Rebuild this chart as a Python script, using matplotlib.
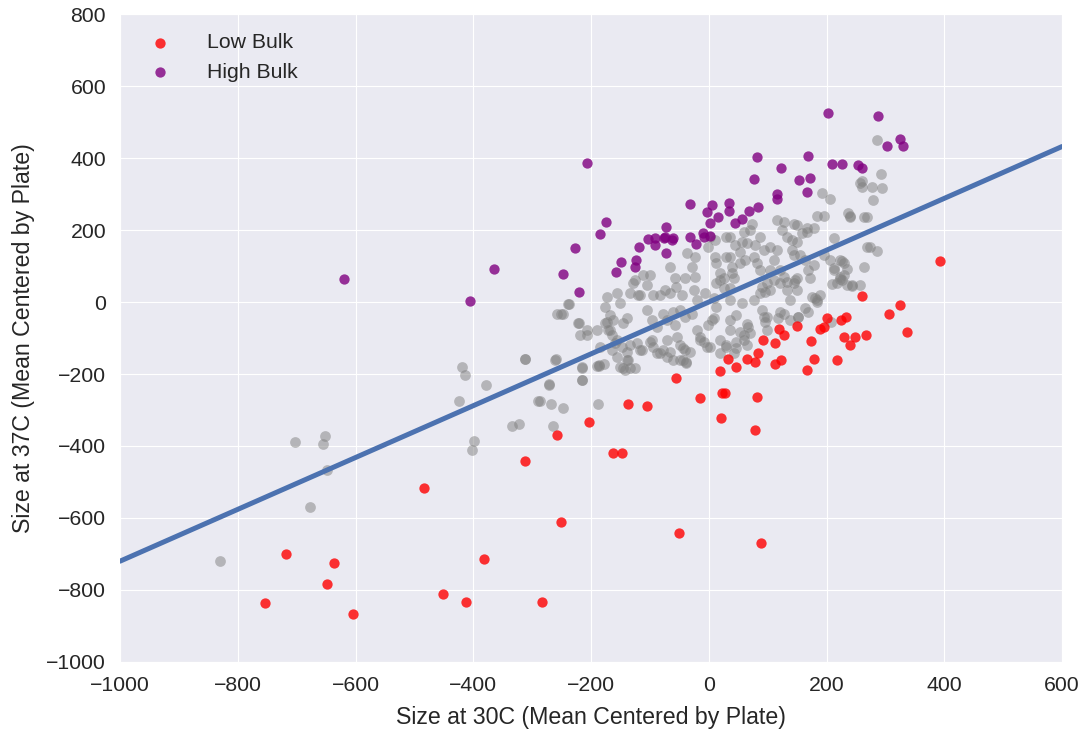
import matplotlib
matplotlib.use("Agg")
import matplotlib.pyplot as plt
import seaborn as sns

# Low Bulk strains (x = size at 30C, y = size at 37C)
low_x = [-754, -718, -649, -637, -604, -483, -451, -413, -382, -312, -283, -257, -251,
         -203, -162, -148, -138, -105, -56, -51, -15, 19, 20, 22, 27, 33, 47, 65, 79,
         84, 81, 79, 88, 92, 112, 112, 122, 120, 127, 150, 167, 173, 179, 189, 196,
         201, 218, 224, 233, 229, 240, 248, 267, 260, 306, 324, 336, 393]
low_y = [-835, -699, -783, -724, -866, -516, -810, -834, -715, -443, -834, -369, -610,
         -332, -420, -420, -284, -289, -212, -642, -268, -193, -323, -252, -252, -157,
         -180, -159, -166, -143, -263, -356, -669, -105, -113, -172, -161, -75, -92, -66,
         -189, -108, -159, -76, -70, -44, -161, -50, -43, -96, -119, -96, -92, 17, -34,
         -8, -84, 115]

# High Bulk strains
high_x = [-620, -405, -365, -248, -221, -228, -207, -185, -175, -158, -149, -125, -124,
          -118, -104, -91, -91, -73, -74, -60, -73, -76, -63, -32, -32, -22, -10, -9, 2,
          5, -3, 2, 15, 35, 35, 45, 56, 69, 84, 77, 82, 116, 116, 122, 153, 172, 166,
          169, 203, 210, 226, 254, 260, 288, 303, 324, 330]
high_y = [63, 2, 93, 77, 29, 151, 387, 188, 222, 82, 111, 98, 117, 153, 175, 177, 157,
          209, 181, 179, 135, 177, 172, 272, 181, 161, 191, 181, 184, 269, 251, 220, 237,
          274, 253, 219, 230, 253, 263, 341, 404, 300, 286, 373, 338, 345, 305, 406, 524,
          382, 383, 380, 371, 517, 433, 453, 433]

# remaining strains (grey)
other_x = [-830, -702, -677, -655, -652, -649, -424, -420, -414, -402, -398, -378, -334,
           -322, -313, -312, -290, -287, -271, -271, -268, -265, -261, -260, -257, -251,
           -248, -248, -239, -238, -222, -221, -218, -216, -216, -216, -216, -207, -207,
           -190, -190, -188, -187, -186, -185, -178, -176, -176, -173, -173, -171, -168,
           -168, -165, -165, -162, -159, -156, -156, -156, -151, -151, -148, -145, -145,
           -142, -139, -139, -139, -137, -134, -134, -134, -128, -125, -125, -122, -120,
           -117, -117, -114, -111, -105, -105, -100, -100, -97, -97, -94, -94, -88, -88,
           -83, -83, -77, -77, -74, -71, -71, -71, -66, -66, -66, -60, -60, -57, -57, -55,
           -54, -49, -49, -49, -46, -43, -43, -40, -40, -40, -38, -38, -37, -32, -29, -29,
           -26, -23, -23, -20, -20, -15, -15, -9, -6, -3, -1, -1, 2, 2, 5, 8, 8, 10, 10, 13,
           13, 13, 19, 19, 19, 19, 25, 25, 30, 30, 30, 30, 36, 36, 36, 36, 36, 36, 39, 39,
           42, 42, 45, 47, 47, 47, 53, 53, 53, 56, 56, 59, 59, 59, 62, 64, 64, 64, 67, 70,
           70, 73, 76, 76, 79, 81, 87, 87, 87, 90, 90, 93, 93, 96, 96, 98, 98, 98, 104,
           104, 104, 110, 110, 115, 115, 118, 121, 121, 121, 124, 127, 127, 127, 132, 132,
           132, 138, 138, 141, 141, 144, 144, 144, 146, 149, 149, 149, 149, 152, 152, 155,
           158, 163, 163, 166, 166, 169, 169, 172, 175, 178, 178, 180, 183, 183, 184, 189,
           192, 195, 195, 206, 206, 207, 209, 212, 212, 212, 217, 222, 223, 223, 227, 227,
           229, 230, 234, 234, 237, 239, 240, 243, 243, 256, 257, 260, 260, 263, 263, 268,
           269, 274, 277, 278, 285, 286, 292, 294, 294, 302, 302, 332, 344, 363, 410, 434,
           471]
other_y = [-719, -390, -570, -394, -372, -467, -274, -181, -203, -411, -385, -231, -344,
           -339, -159, -157, -274, -275, -231, -228, -284, -345, -161, -159, -32, -32,
           -33, -294, -6, -6, -57, -57, -92, -180, -217, -184, -217, -78, -92, -78, -178,
           -284, -175, -177, -124, -173, -59, -13, -55, 15, -78, -78, -36, -133, -92,
           -50, -115, -154, 26, -106, -4, -180, -124, -59, -184, -189, -45, -161, -138,
           -161, -120, -184, 24, 52, 61, -184, -115, 19, 19, -133, -133, 75, -22, 47,
           -110, 75, -50, -106, -124, 19, -69, -143, -143, 19, -32, -133, 33, -152, -50,
           -106, -138, 24, 98, -27, -161, 66, -64, 43, -96, -120, -161, -22, 19, -161,
           -129, -41, -134, 66, -166, -170, 135, -138, 98, -32, 33, 126, 70, 5, -78, -96,
           -106, -110, 24, -124, 154, -64, 181, -124, -50, 10, -45, 172, 126, 52, 107, -13,
           61, 80, -106, -143, 38, 66, -120, -124, 181, 126, 38, -78, -50, 5, 181, 126, 80,
           98, 66, -143, 158, -110, -129, -36, 140, 107, -82, 168, -4, -92, -106, 195, 117,
           -120, -62, 163, -69, -87, 200, 218, 126, 5, 158, 107, 24, 181, 89, -22, 43,
           -41, 144, 29, -55, -41, 52, -78, 154, 33, 89, 61, 117, 144, 228, -45, 52, 89,
           -27, 200, 223, -32, 70, 56, 33, 181, 6, -50, 172, 144, 130, 218, 52, 61, 33,
           214, 168, 66, -41, -41, 131, 191, 117, -18, 195, 205, 89, -27, 66, 15, 103,
           205, 10, 239, 1, 6, 19, 302, 239, 130, 286, 117, -55, 50, 89, 177, 94, 54, 70,
           63, 117, 115, 61, 75, 107, 47, 91, 246, 239, 237, 47, 44, 47, 330, 336, 320, 98,
           237, 237, 154, 152, 320, 283, 143, 450, 355, 316]

# regression line
slope = 0.72
intercept = 0.0

x_ticks = [-1000, -800, -600, -400, -200, 0, 200, 400, 600]
y_ticks = [-1000, -800, -600, -400, -200, 0, 200, 400, 600, 800]

sns.set_style("darkgrid")
plt.rcParams['font.family'] = ['Liberation Sans', 'DejaVu Sans']

fig = plt.figure(figsize=(10.86, 7.38), dpi=100)
ax = fig.add_axes([0.1105, 0.103, 0.8675, 0.878])

n = min(len(other_x), len(other_y))
ax.scatter(other_x[:n], other_y[:n], s=60, color='gray', alpha=0.5, linewidths=0, zorder=2)
ax.scatter(low_x, low_y, s=55, color='red', alpha=0.8, linewidths=0, label='Low Bulk', zorder=3)
ax.scatter(high_x, high_y, s=55, color='purple', alpha=0.8, linewidths=0, label='High Bulk', zorder=3)

line_x = [x_ticks[0], x_ticks[-1]]
ax.plot(line_x, [slope * v + intercept for v in line_x], color='#4C72B0', lw=3.6, zorder=4)

ax.set_xlim(-1000, 600)
ax.set_ylim(-1000, 800)
ax.set_xticks(x_ticks)
ax.set_yticks(y_ticks)
ax.set_xticklabels([str(t).replace('-', '\u2212') for t in x_ticks])
ax.set_yticklabels([str(t).replace('-', '\u2212') for t in y_ticks])
ax.tick_params(labelsize=15.3, colors='#262626', length=0, pad=10)
ax.set_xlabel("Size at 30C (Mean Centered by Plate)", fontsize=16.7, color='#262626', labelpad=8)
ax.set_ylabel("Size at 37C (Mean Centered by Plate)", fontsize=16.7, color='#262626', labelpad=8)
ax.legend(loc='upper left', frameon=False, scatterpoints=1, fontsize=15.3,
          borderaxespad=0.5, handletextpad=1.2)

fig.savefig("out.png", dpi=100)
